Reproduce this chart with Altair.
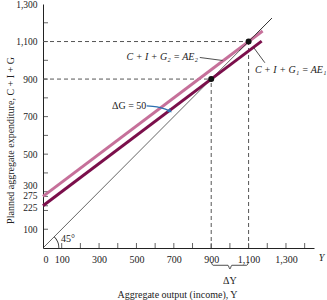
import altair as alt
import pandas as pd

SERIF = "Liberation Serif"

# ---- data ----
x_ticks = list(range(100, 1500, 100))
x_labels = [0, 100, 300, 500, 700, 900, 1100, 1300]
y_ticks = [100, 200, 225, 275, 300, 400, 500, 600, 700, 800, 900, 1000, 1100, 1200]
y_labels = [100, 225, 275, 300, 500, 700, 900, 1100, 1300]

line45_x = [0, 1225]
line45_y = [0, 1225]
ae1_x = [0, 1170]
ae1_y = [225, 1102]
ae2_x = [0, 1175]
ae2_y = [275, 1156]
eq_x = [900, 1100]
eq_y = [900, 1100]

dash_x = [0, 0, 900, 1100]
dash_y = [900, 1100, 0, 0]
dash_x2 = [900, 1100, 900, 1100]
dash_y2 = [900, 1100, 900, 1100]

brace_x = [900, 910, 990, 1000, 1010, 1090, 1100]
brace_y = [-75, -92, -92, -112, -92, -92, -75]

arrow_x = [555, 610, 655, 678]
arrow_y = [757, 752, 740, 731]

W, H = 271, 244
xs = alt.Scale(domain=[0, 1450], nice=False, zero=True)
ys = alt.Scale(domain=[0, 1300], nice=False, zero=True)

x_axis = alt.Axis(
    values=x_labels, format=",d", ticks=False, tickCount=40,
    grid=False, domainColor="#222",
    labelPadding=6, labelFont=SERIF, labelFontSize=10, labelColor="#222",
    title="Aggregate output (income), Y", titleFont=SERIF, titleFontSize=10,
    titleFontWeight="normal", titleColor="#222", titleX=134, titleY=46,
    titleBaseline="middle", titleAlign="center", labelOverlap=False,
)
y_axis = alt.Axis(
    values=y_labels, format=",d", ticks=False, tickCount=40,
    grid=False, domainColor="#222",
    labelPadding=6, labelFont=SERIF, labelFontSize=9.5, labelColor="#222",
    labelOffset={"condition": [
        {"test": "datum.value == 300", "value": -6},
        {"test": "datum.value == 275", "value": -1},
        {"test": "datum.value == 225", "value": 1.5},
    ], "value": 0},
    title="Planned aggregate expenditure, C + I + G", titleFont=SERIF, titleFontSize=10,
    titleFontWeight="normal", titleColor="#222", titleX=-33, titleY=136, titleAngle=-90,
    titleBaseline="middle", titleAlign="center", labelOverlap=False,
)

X = lambda: alt.X("x:Q", scale=xs)
Y = lambda: alt.Y("y:Q", scale=ys)

l45 = alt.Chart(pd.DataFrame({"x": line45_x, "y": line45_y})).mark_line(
    color="#222", strokeWidth=0.7, clip=False
).encode(x=alt.X("x:Q", scale=xs, axis=x_axis), y=alt.Y("y:Q", scale=ys, axis=y_axis))

xticks = alt.Chart(pd.DataFrame({"x": x_ticks})).mark_tick(
    color="#222", thickness=1, size=5, orient="vertical"
).encode(x=X(), y=alt.value(H - 2.5))

yticks = alt.Chart(pd.DataFrame({"y": y_ticks})).mark_tick(
    color="#222", thickness=1, size=5, orient="horizontal"
).encode(y=Y(), x=alt.value(2.5))

dashes = alt.Chart(pd.DataFrame({"x": dash_x, "y": dash_y, "x2": dash_x2, "y2": dash_y2})).mark_rule(
    color="#555", strokeWidth=1, strokeDash=[4, 3]
).encode(x=X(), y=Y(), x2="x2:Q", y2="y2:Q")

ae2 = alt.Chart(pd.DataFrame({"x": ae2_x, "y": ae2_y})).mark_line(
    color="#c6709a", strokeWidth=3
).encode(x=X(), y=Y())

ae1 = alt.Chart(pd.DataFrame({"x": ae1_x, "y": ae1_y})).mark_line(
    color="#7b0f4b", strokeWidth=3
).encode(x=X(), y=Y())

l45_top = alt.Chart(pd.DataFrame({"x": [1050, 1225], "y": [1050, 1225]})).mark_line(
    color="#222", strokeWidth=0.7, clip=False
).encode(x=X(), y=Y())

dots = alt.Chart(pd.DataFrame({"x": eq_x, "y": eq_y})).mark_circle(
    color="#111", size=36, opacity=1
).encode(x=X(), y=Y())

arc = alt.Chart(pd.DataFrame({"x": [0], "y": [0]})).mark_arc(
    innerRadius=15.5, outerRadius=16.3, theta=0.785, theta2=1.571, color="#222"
).encode(x=X(), y=Y())

leaders = alt.Chart(pd.DataFrame({
    "x": [839, 1128], "y": [1015, 1067], "x2": [961, 1187], "y2": [999, 987]
})).mark_rule(color="#222", strokeWidth=0.8).encode(x=X(), y=Y(), x2="x2:Q", y2="y2:Q")

arrow = alt.Chart(pd.DataFrame({"x": arrow_x, "y": arrow_y, "o": [0, 1, 2, 3]})).mark_line(
    color="#2a6fb0", strokeWidth=1.2, interpolate="monotone"
).encode(x=X(), y=Y(), order="o:O")

arrow_head = alt.Chart(pd.DataFrame({"x": [680], "y": [729]})).mark_point(
    shape="triangle-right", filled=True, size=22, angle=35, color="#2a6fb0", opacity=1
).encode(x=X(), y=Y())

brace = alt.Chart(pd.DataFrame({"x": brace_x, "y": brace_y, "o": list(range(len(brace_x)))})).mark_line(
    color="#222", strokeWidth=0.8, clip=False, interpolate="monotone"
).encode(x=X(), y=Y(), order="o:O")

texts = pd.DataFrame({
    "x": [829, 1134, 553, 96, 1000, 1490],
    "y": [1019, 949, 759, 48, -176, -53],
    "t": ["C + I + G₂ = AE₂", "C + I + G₁ = AE₁", "ΔG = 50", "45°", "ΔY", "Y"],
    "al": ["right", "left", "right", "left", "center", "center"],
    "st": ["italic", "italic", "normal", "normal", "normal", "italic"],
})

def txt(row):
    return alt.Chart(pd.DataFrame([row])).mark_text(
        font=SERIF, fontSize=10, color="#222", align=row["al"], baseline="middle",
        fontStyle=row["st"], clip=False
    ).encode(x=X(), y=Y(), text="t:N")

text_layers = [txt(r) for r in texts.to_dict("records")]

chart = alt.layer(
    l45, xticks, yticks, dashes, ae2, ae1, l45_top, dots, arc, leaders, arrow, arrow_head, brace,
    *text_layers
).properties(
    width=W, height=H,
    autosize=alt.AutoSizeParams(type="none"),
    padding={"left": 43, "top": 4, "right": 13, "bottom": 52},
    background="white",
).configure_view(stroke=None).configure_axis(labelOverlap=False)

chart.save("out.html", embed_options={"renderer": "svg", "actions": False})
